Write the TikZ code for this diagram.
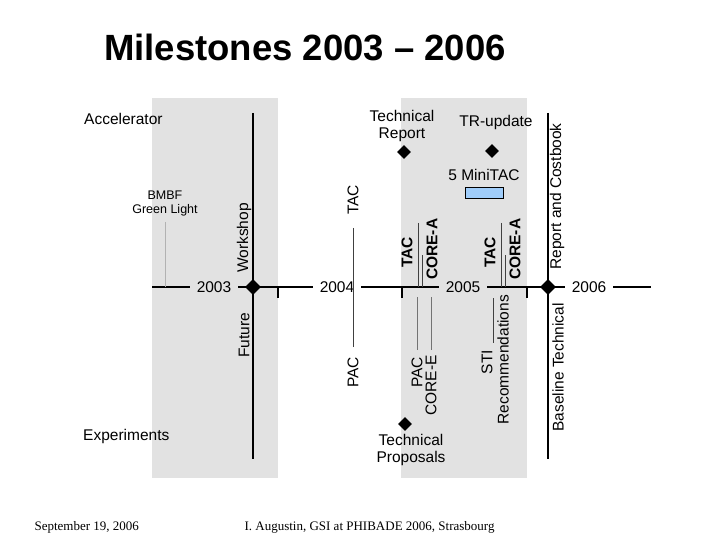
\documentclass[tikz,border=0pt]{standalone}
\usepackage{fontspec}
\setmainfont{Liberation Serif}
\setsansfont{Liberation Sans}
\usetikzlibrary{shapes.geometric,positioning}
\definecolor{bandgrey}{RGB}{226,226,226}
\definecolor{minitac}{RGB}{160,205,250}

\begin{document}
\begin{tikzpicture}[x=1pt, y=-1pt, node distance=6pt,
  lbl/.style={font=\sffamily\fontsize{15.5}{17}\selectfont, inner sep=0pt},
  blbl/.style={font=\sffamily\bfseries\fontsize{15.5}{17}\selectfont, inner sep=0pt, rotate=90, anchor=west},
  up/.style={lbl, rotate=90, anchor=west},
  down/.style={lbl, rotate=90, anchor=east},
  yr/.style={lbl, inner sep=7pt},
  ms/.style={diamond, fill=black, inner sep=0pt, minimum size=16pt},
  stem/.style={draw=black!75, line width=0.8pt}]
  \useasboundingbox (0,0) rectangle (720,540);

  % Bands
  \fill[bandgrey] (152,98) rectangle (278,478);
  \fill[bandgrey] (401,98) rectangle (527,478);

  % Title
  \node[font=\sffamily\bfseries\fontsize{36.5}{40}\selectfont] (title) at (305,47) {Milestones 2003 -- 2006};

  % Axis
  \coordinate (axL) at (152,287);
  \coordinate (c2003) at (253,287);
  \coordinate (c2006) at (548,287);
  \coordinate (axR) at (651,287);
  \node[yr] (y2003) at (214,287) {2003};
  \node[yr] (y2004) at (337,287) {2004};
  \node[yr] (y2005) at (463,287) {2005};
  \node[yr] (y2006) at (589,287) {2006};
  \draw[line width=1.5pt] (axL) -- (y2003) -- (c2003) -- (y2004) -- (y2005) -- (c2006) -- (y2006) -- (axR);
  \foreach \t in {278,402,527}
    \draw[line width=1.5pt] (\t,287) -- (\t,298);

  % Main verticals
  \coordinate (v1top) at (253,113);
  \coordinate (v1bot) at (253,459);
  \coordinate (v2top) at (548,113);
  \coordinate (v2bot) at (548,459);
  \draw[line width=1.2pt] (v1top) -- (v1bot);
  \draw[line width=1.2pt] (v2top) -- (v2bot);
  \node[ms] (d2003) at (c2003) {};
  \node[ms] (d2006) at (c2006) {};

  % Side labels
  \node[lbl, anchor=west] (acc) at (84,119) {Accelerator};
  \node[lbl, anchor=west] (expt) at (83,436) {Experiments};
  \node[lbl, font=\sffamily\fontsize{12.5}{14}\selectfont, align=center] (bmbf) at (165,203) {BMBF\\Green Light};
  \coordinate (bmbfs) at (165,222);
  \draw[black!30, line width=0.6pt] (bmbfs) -- (bmbfs |- y2003);

  % Rotated labels
  \node[up] (ws) at (244,273) {Workshop};
  \node[down] (fut) at (244,313) {Future};
  \node[up] (tac1) at (353,215) {TAC};
  \node[down] (pac1) at (353,357) {PAC};
  \node[blbl] (tac2) at (407,268) {TAC};
  \node[blbl] (corea1) at (432,280) {CORE-A};
  \node[blbl] (tac3) at (490,268) {TAC};
  \node[blbl] (corea2) at (515,280) {CORE-A};
  \node[down] (pac2) at (417,357) {PAC};
  \node[down] (coree) at (431,355) {CORE-E};
  \node[down] (sti) at (487,350) {STI};
  \node[down] (rec) at (503,295) {Recommendations};
  \node[up] (rep) at (557,270) {Report and Costbook};
  \node[down] (base) at (558,303) {Baseline Technical};

  % Stems
  \coordinate (tac1s) at (353,228);
  \coordinate (pac1s) at (353,347);
  \draw[stem] (tac1s) -- (tac1s |- y2004);
  \draw[stem] (pac1s) -- (pac1s |- y2004);
  \coordinate (ta1) at (418,223);
  \coordinate (ta2) at (422,255);
  \coordinate (ta3) at (501,223);
  \coordinate (ta4) at (505,255);
  \foreach \s in {ta1,ta2,ta3,ta4}
    \draw[stem] (\s) -- (\s |- y2005);
  \coordinate (pe1) at (417,297);
  \coordinate (pe2) at (431,297);
  \draw[stem, draw=black!55] (pe1) -- ++(0,53);
  \draw[stem, draw=black!55] (pe2) -- ++(0,53);
  \coordinate (stis) at (493,298);
  \draw[stem] (stis) -- ++(0,45);

  % Milestones
  \node[lbl, align=center] (trep) at (402,126) {Technical\\Report};
  \node[ms, minimum size=14pt] (dtr) at (404,152) {};
  \node[lbl] (tru) at (496,122) {TR-update};
  \node[ms, minimum size=14pt] (dtru) at (492,151) {};
  \node[lbl] (mini) at (484,175) {5 MiniTAC};
  \node[draw, fill=minitac, line width=1pt, minimum width=38pt, minimum height=11pt, below=6pt of mini] (minibox) {};
  \node[ms, minimum size=14pt] (dtp) at (405,424) {};
  \node[lbl, align=center] (tprop) at (411,450) {Technical\\Proposals};

  % Footer
  \node[font=\rmfamily\fontsize{13}{15}\selectfont, anchor=west] (date) at (31,527) {September 19, 2006};
  \node[font=\rmfamily\fontsize{13}{15}\selectfont, anchor=west] (auth) at (241,527) {I. Augustin, GSI at PHIBADE 2006, Strasbourg};
\end{tikzpicture}
\end{document}
